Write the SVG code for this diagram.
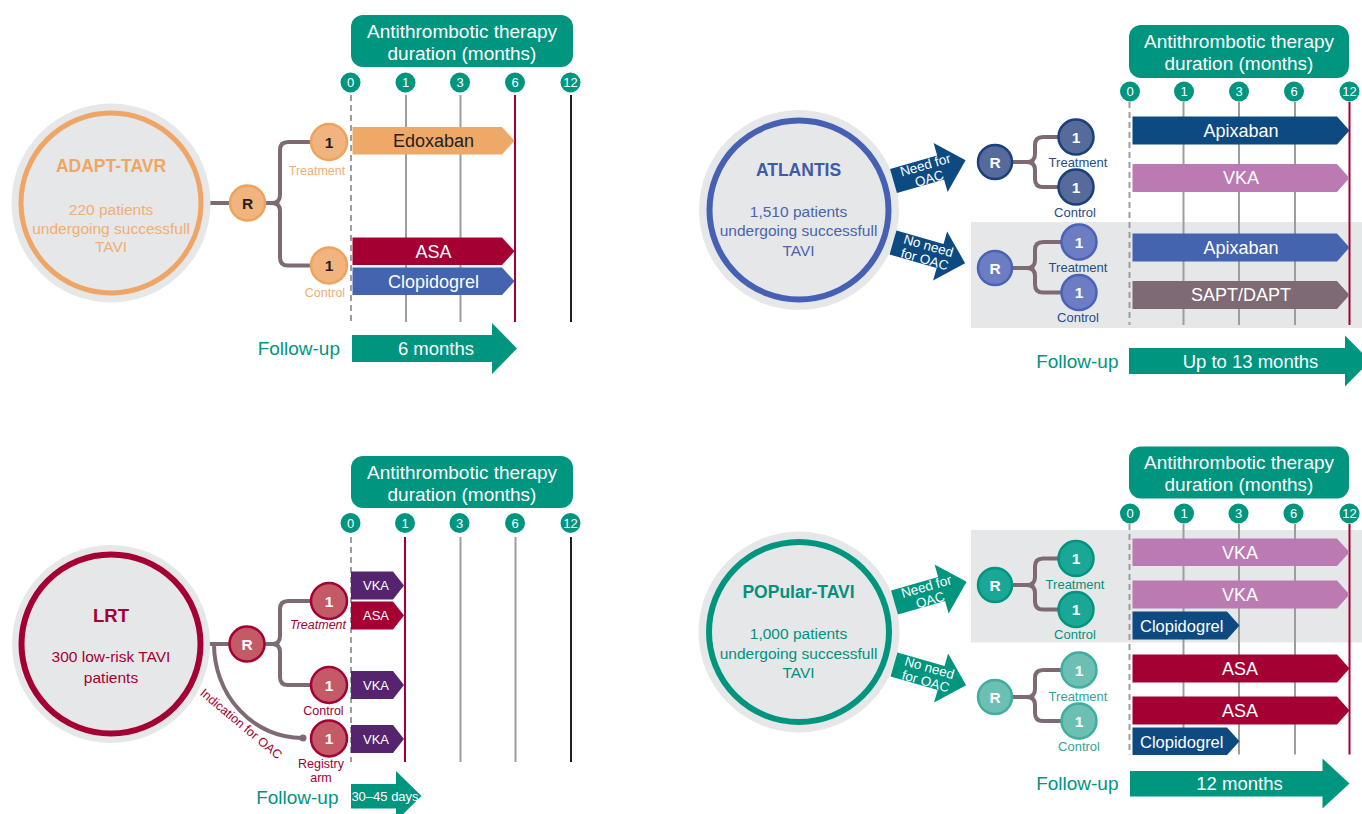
<svg xmlns="http://www.w3.org/2000/svg" width="1362" height="814" viewBox="0 0 1362 814">
<style>
text{font-family:"Liberation Sans",Arial,sans-serif;dominant-baseline:central;text-anchor:middle}
.hdr{fill:#00957F}
.ht{fill:#fff;font-size:19px}
.tk{fill:#00957F}
.tt{fill:#fff;font-size:13px}
.vg{stroke:#9D9D9D;stroke-width:2}
.vd{stroke:#9D9D9D;stroke-width:2;stroke-dasharray:6 4}
.vr{stroke:#A50034;stroke-width:2}
.vk{stroke:#231F20;stroke-width:2}
.br{fill:none;stroke:#7E6A75;stroke-width:4;stroke-linejoin:round;stroke-linecap:round}
.bg{fill:#E6E7E8}
.bt{fill:#fff;font-size:18px}
.fu{fill:#00957F;font-size:19px;text-anchor:end}
.fa{fill:#00957F}
.fat{fill:#fff;font-size:18.5px}
.ttl{font-size:17.5px;font-weight:bold}
.bd{font-size:15.5px}
.lb{font-size:12.5px}
.nn{font-size:15.5px;font-weight:bold;fill:#fff}
.oa{fill:#fff;font-size:13.5px}
</style>

<!-- ================= ADAPT-TAVR ================= -->
<g id="adapt-timeline">
  <rect class="hdr" x="351" y="15" width="222" height="52" rx="12"/>
  <text class="ht" x="462" y="31.5">Antithrombotic therapy</text>
  <text class="ht" x="462" y="53.5">duration (months)</text>
  <line class="vd" x1="351" y1="95" x2="351" y2="322"/>
  <line class="vg" x1="406" y1="95" x2="406" y2="322"/>
  <line class="vg" x1="460.5" y1="95" x2="460.5" y2="322"/>
  <line class="vr" x1="515" y1="95" x2="515" y2="322"/>
  <line class="vk" x1="571" y1="95" x2="571" y2="322"/>
  <circle class="tk" cx="350.5" cy="82.5" r="10"/><text class="tt" x="350.5" y="82.5">0</text>
  <circle class="tk" cx="405.5" cy="82.5" r="10"/><text class="tt" x="405.5" y="82.5">1</text>
  <circle class="tk" cx="460" cy="82.5" r="10"/><text class="tt" x="460" y="82.5">3</text>
  <circle class="tk" cx="515" cy="82.5" r="10"/><text class="tt" x="515" y="82.5">6</text>
  <circle class="tk" cx="570.5" cy="82.5" r="10"/><text class="tt" x="570.5" y="82.5">12</text>
</g>

<!-- ================= ATLANTIS ================= -->
<g id="atlantis-timeline">
  <rect class="bg" x="971" y="222" width="391" height="106"/>
  <rect class="hdr" x="1129" y="25" width="220" height="53" rx="12"/>
  <text class="ht" x="1239" y="41">Antithrombotic therapy</text>
  <text class="ht" x="1239" y="63">duration (months)</text>
  <line class="vd" x1="1129.5" y1="102" x2="1129.5" y2="325"/>
  <line class="vg" x1="1183.5" y1="102" x2="1183.5" y2="325"/>
  <line class="vg" x1="1239" y1="102" x2="1239" y2="325"/>
  <line class="vg" x1="1295" y1="102" x2="1295" y2="325"/>
  <line class="vr" x1="1349.5" y1="102" x2="1349.5" y2="325"/>
  <circle class="tk" cx="1130" cy="91.5" r="10"/><text class="tt" x="1130" y="91.5">0</text>
  <circle class="tk" cx="1184" cy="91.5" r="10"/><text class="tt" x="1184" y="91.5">1</text>
  <circle class="tk" cx="1239" cy="91.5" r="10"/><text class="tt" x="1239" y="91.5">3</text>
  <circle class="tk" cx="1294" cy="91.5" r="10"/><text class="tt" x="1294" y="91.5">6</text>
  <circle class="tk" cx="1349.5" cy="91.5" r="10"/><text class="tt" x="1349.5" y="91.5">12</text>
</g>

<!-- ================= LRT ================= -->
<g id="lrt-timeline">
  <rect class="hdr" x="351" y="456" width="222" height="52" rx="12"/>
  <text class="ht" x="462" y="472">Antithrombotic therapy</text>
  <text class="ht" x="462" y="494">duration (months)</text>
  <line class="vd" x1="351" y1="537" x2="351" y2="762"/>
  <line class="vr" x1="405" y1="537" x2="405" y2="762"/>
  <line class="vg" x1="460.5" y1="537" x2="460.5" y2="762"/>
  <line class="vg" x1="515.5" y1="537" x2="515.5" y2="762"/>
  <line class="vk" x1="571" y1="537" x2="571" y2="762"/>
  <circle class="tk" cx="350.5" cy="523" r="10"/><text class="tt" x="350.5" y="523">0</text>
  <circle class="tk" cx="405" cy="523" r="10"/><text class="tt" x="405" y="523">1</text>
  <circle class="tk" cx="459.5" cy="523" r="10"/><text class="tt" x="459.5" y="523">3</text>
  <circle class="tk" cx="515" cy="523" r="10"/><text class="tt" x="515" y="523">6</text>
  <circle class="tk" cx="570.5" cy="523" r="10"/><text class="tt" x="570.5" y="523">12</text>
</g>

<!-- ================= POPular-TAVI ================= -->
<g id="popular-timeline">
  <rect class="bg" x="971" y="530" width="391" height="112.5"/>
  <rect class="hdr" x="1129" y="446.5" width="220" height="52" rx="12"/>
  <text class="ht" x="1239" y="462.5">Antithrombotic therapy</text>
  <text class="ht" x="1239" y="484.5">duration (months)</text>
  <line class="vd" x1="1129.5" y1="524" x2="1129.5" y2="754.5"/>
  <line class="vg" x1="1183.5" y1="524" x2="1183.5" y2="754.5"/>
  <line class="vg" x1="1239" y1="524" x2="1239" y2="754.5"/>
  <line class="vg" x1="1295" y1="524" x2="1295" y2="754.5"/>
  <line class="vr" x1="1349.5" y1="524" x2="1349.5" y2="754.5"/>
  <circle class="tk" cx="1130" cy="513.5" r="10"/><text class="tt" x="1130" y="513.5">0</text>
  <circle class="tk" cx="1184" cy="513.5" r="10"/><text class="tt" x="1184" y="513.5">1</text>
  <circle class="tk" cx="1238.5" cy="513.5" r="10"/><text class="tt" x="1238.5" y="513.5">3</text>
  <circle class="tk" cx="1293.5" cy="513.5" r="10"/><text class="tt" x="1293.5" y="513.5">6</text>
  <circle class="tk" cx="1349.5" cy="513.5" r="10"/><text class="tt" x="1349.5" y="513.5">12</text>
</g>

<!-- ================= Connectors ================= -->
<g id="connectors">
  <path class="br" d="M205 203 H248"/>
  <path class="br" d="M248 203 H272 Q280 203 280 195 V150 Q280 142 288 142 H329 M272 203 Q280 203 280 211 V257.5 Q280 265.5 288 265.5 H329"/>
  <path class="br" d="M205 644 H247"/>
  <path class="br" d="M247 644 H272 Q280 644 280 636 V609 Q280 601 288 601 H329 M272 644 Q280 644 280 652 V677 Q280 685 288 685 H329"/>
  <path class="br" d="M214 644 A88 94 0 0 0 302 738"/>
  <circle cx="303" cy="738" r="3.5" fill="#7E6A75"/>
  <path class="br" d="M995 162 H1027 Q1035 162 1035 154 V145 Q1035 137 1043 137 H1076 M1027 162 Q1035 162 1035 170 V179 Q1035 187 1043 187 H1076"/>
  <path class="br" d="M995 268 H1027 Q1035 268 1035 260 V250 Q1035 242 1043 242 H1079 M1027 268 Q1035 268 1035 276 V284.5 Q1035 292.5 1043 292.5 H1079"/>
  <path class="br" d="M995 585 H1027 Q1035 585 1035 577 V566.5 Q1035 558.5 1043 558.5 H1076 M1027 585 Q1035 585 1035 593 V601.5 Q1035 609.5 1043 609.5 H1076"/>
  <path class="br" d="M995 697 H1027 Q1035 697 1035 689 V678 Q1035 670 1043 670 H1079 M1027 697 Q1035 697 1035 705 V713 Q1035 721 1043 721 H1079"/>
</g>

<!-- ================= Study circles ================= -->
<g id="adapt-study">
  <circle cx="111" cy="203" r="99.5" fill="#E6E7E8"/>
  <circle cx="111" cy="203" r="90" fill="none" stroke="#EFA564" stroke-width="5"/>
  <text class="ttl" x="111" y="166" fill="#EFA664">ADAPT-TAVR</text>
  <text class="bd" x="111" y="209" fill="#F1AE72">220 patients</text>
  <text class="bd" x="111" y="228" fill="#F1AE72">undergoing successfull</text>
  <text class="bd" x="111" y="246.5" fill="#F1AE72">TAVI</text>
</g>
<g id="lrt-study">
  <circle cx="111" cy="644" r="99" fill="#E6E7E8"/>
  <circle cx="111" cy="644" r="89.5" fill="none" stroke="#A50034" stroke-width="6"/>
  <text class="ttl" x="111" y="615" fill="#A50034" style="font-size:18.5px">LRT</text>
  <text class="bd" x="111" y="656.5" fill="#A50034">300 low-risk TAVI</text>
  <text class="bd" x="111" y="677.5" fill="#A50034">patients</text>
</g>
<g id="atlantis-study">
  <circle cx="799" cy="210" r="100" fill="#E6E7E8"/>
  <circle cx="799" cy="210" r="89.5" fill="none" stroke="#4660B4" stroke-width="6"/>
  <text class="ttl" x="798.5" y="170" fill="#3F5AA8">ATLANTIS</text>
  <text class="bd" x="798.5" y="211.5" fill="#4A63B0">1,510 patients</text>
  <text class="bd" x="798.5" y="230.5" fill="#4A63B0">undergoing successfull</text>
  <text class="bd" x="798.5" y="250" fill="#4A63B0">TAVI</text>
</g>
<g id="popular-study">
  <circle cx="799" cy="632" r="100.5" fill="#E6E7E8"/>
  <circle cx="799" cy="632" r="90" fill="none" stroke="#00957F" stroke-width="6"/>
  <text class="ttl" x="798.5" y="591.5" fill="#00927E">POPular-TAVI</text>
  <text class="bd" x="798.5" y="633.5" fill="#00927E">1,000 patients</text>
  <text class="bd" x="798.5" y="653" fill="#00927E">undergoing successfull</text>
  <text class="bd" x="798.5" y="672.5" fill="#00927E">TAVI</text>
</g>

<!-- ================= OAC arrows ================= -->
<defs>
  <path id="oacArrow" d="M0 -12.5 H49 V-25.5 L75 0 L49 25.5 V12.5 H0 Z"/>
</defs>
<g id="atlantis-need-oac" transform="translate(893.5 181) rotate(-16)">
  <use href="#oacArrow" fill="#0D4A82"/>
  <text class="oa" x="35" y="-6.5">Need for</text>
  <text class="oa" x="35" y="7.5">OAC</text>
</g>
<g id="atlantis-no-need-oac" transform="translate(893 242.5) rotate(16)">
  <use href="#oacArrow" fill="#0D4A82"/>
  <text class="oa" x="35" y="-6.5">No need</text>
  <text class="oa" x="35" y="7.5">for OAC</text>
</g>
<g id="popular-need-oac" transform="translate(894.5 602.5) rotate(-16)">
  <use href="#oacArrow" fill="#00957F"/>
  <text class="oa" x="35" y="-6.5">Need for</text>
  <text class="oa" x="35" y="7.5">OAC</text>
</g>
<g id="popular-no-need-oac" transform="translate(894 664.5) rotate(16)">
  <use href="#oacArrow" fill="#00957F"/>
  <text class="oa" x="35" y="-6.5">No need</text>
  <text class="oa" x="35" y="7.5">for OAC</text>
</g>

<!-- ================= Randomisation & arm nodes ================= -->
<g id="adapt-r"><circle cx="247.5" cy="203" r="17.5" fill="#F2B47E" stroke="#EDA35E" stroke-width="2.5"/><text x="247.5" y="203" style="font-size:15.5px;font-weight:bold;fill:#231F20">R</text></g>
<g id="adapt-treatment"><circle cx="329" cy="142" r="18" fill="#F2B47E" stroke="#EDA35E" stroke-width="2.5"/><text x="329" y="142" style="font-size:15.5px;font-weight:bold;fill:#231F20">1</text>
  <text class="lb" x="317" y="171" fill="#F1AE72">Treatment</text></g>
<g id="adapt-control"><circle cx="329" cy="265.5" r="18" fill="#F2B47E" stroke="#EDA35E" stroke-width="2.5"/><text x="329" y="265.5" style="font-size:15.5px;font-weight:bold;fill:#231F20">1</text>
  <text class="lb" x="325" y="293" fill="#F1AE72">Control</text></g>

<g id="lrt-r"><circle cx="247" cy="644" r="17.5" fill="#C45A66" stroke="#A50034" stroke-width="2.5"/><text class="nn" x="247" y="644">R</text></g>
<g id="lrt-treatment"><circle cx="329" cy="601" r="18" fill="#C45A66" stroke="#A50034" stroke-width="2.5"/><text class="nn" x="329" y="601">1</text>
  <text class="lb" x="318" y="624.5" fill="#A50034" font-style="italic">Treatment</text></g>
<g id="lrt-control"><circle cx="329" cy="685" r="18" fill="#C45A66" stroke="#A50034" stroke-width="2.5"/><text class="nn" x="329" y="685">1</text>
  <text class="lb" x="323.5" y="710.5" fill="#A50034">Control</text></g>
<g id="lrt-registry"><circle cx="329" cy="738.5" r="18" fill="#C45A66" stroke="#A50034" stroke-width="2.5"/><text class="nn" x="329" y="738.5">1</text>
  <text class="lb" x="321" y="764" fill="#A50034">Registry</text>
  <text class="lb" x="321" y="778" fill="#A50034">arm</text></g>
<text id="lrt-oac-label" class="lb" x="0" y="0" fill="#A50034" transform="translate(241 724) rotate(40)">Indication for OAC</text>

<g id="atlantis-r1"><circle cx="995" cy="162" r="17" fill="#566A9C" stroke="#1B3F79" stroke-width="2.5"/><text class="nn" x="995" y="162">R</text></g>
<g id="atlantis-t1"><circle cx="1076" cy="137" r="17.5" fill="#566A9C" stroke="#1B3F79" stroke-width="2.5"/><text class="nn" x="1076" y="137">1</text>
  <text class="lb" x="1078" y="162" fill="#244C8A" style="font-size:13px">Treatment</text></g>
<g id="atlantis-c1"><circle cx="1076" cy="187" r="17.5" fill="#566A9C" stroke="#1B3F79" stroke-width="2.5"/><text class="nn" x="1076" y="187">1</text>
  <text class="lb" x="1075" y="212.5" fill="#244C8A" style="font-size:13px">Control</text></g>
<g id="atlantis-r2"><circle cx="995" cy="268" r="17" fill="#6C7DC4" stroke="#4A62B8" stroke-width="2.5"/><text class="nn" x="995" y="268">R</text></g>
<g id="atlantis-t2"><circle cx="1079" cy="242" r="17.5" fill="#6C7DC4" stroke="#4A62B8" stroke-width="2.5"/><text class="nn" x="1079" y="242">1</text>
  <text class="lb" x="1078" y="267" fill="#244C8A" style="font-size:13px">Treatment</text></g>
<g id="atlantis-c2"><circle cx="1079" cy="292.5" r="17.5" fill="#6C7DC4" stroke="#4A62B8" stroke-width="2.5"/><text class="nn" x="1079" y="292.5">1</text>
  <text class="lb" x="1078" y="317.5" fill="#244C8A" style="font-size:13px">Control</text></g>

<g id="popular-r1"><circle cx="995" cy="585" r="17" fill="#1AA796" stroke="#00957F" stroke-width="2.5"/><text class="nn" x="995" y="585">R</text></g>
<g id="popular-t1"><circle cx="1076" cy="558.5" r="17.5" fill="#1AA796" stroke="#00957F" stroke-width="2.5"/><text class="nn" x="1076" y="558.5">1</text>
  <text class="lb" x="1075" y="584" fill="#00927E" style="font-size:13px">Treatment</text></g>
<g id="popular-c1"><circle cx="1076" cy="609.5" r="17.5" fill="#1AA796" stroke="#00957F" stroke-width="2.5"/><text class="nn" x="1076" y="609.5">1</text>
  <text class="lb" x="1075" y="634.5" fill="#00927E" style="font-size:13px">Control</text></g>
<g id="popular-r2"><circle cx="995" cy="697" r="17" fill="#6CBFB3" stroke="#3FAE9E" stroke-width="2.5"/><text class="nn" x="995" y="697">R</text></g>
<g id="popular-t2"><circle cx="1079" cy="670" r="17.5" fill="#6CBFB3" stroke="#3FAE9E" stroke-width="2.5"/><text class="nn" x="1079" y="670">1</text>
  <text class="lb" x="1078" y="696" fill="#2FA595" style="font-size:13px">Treatment</text></g>
<g id="popular-c2"><circle cx="1079" cy="721" r="17.5" fill="#6CBFB3" stroke="#3FAE9E" stroke-width="2.5"/><text class="nn" x="1079" y="721">1</text>
  <text class="lb" x="1079" y="746.5" fill="#2FA595" style="font-size:13px">Control</text></g>

<!-- ================= Therapy bars ================= -->
<g id="adapt-edoxaban"><path d="M352.5 127 H502 L514.5 140.75 L502 154.5 H352.5 Z" fill="#EEA968"/><text class="bt" x="433.5" y="141" style="fill:#231F20">Edoxaban</text></g>
<g id="adapt-asa"><path d="M352.5 237.5 H502 L514.5 251.25 L502 265 H352.5 Z" fill="#A50034"/><text class="bt" x="433.5" y="251.5">ASA</text></g>
<g id="adapt-clopidogrel"><path d="M352.5 267.5 H502 L514.5 281.25 L502 295 H352.5 Z" fill="#4464B0"/><text class="bt" x="433.5" y="281.5">Clopidogrel</text></g>

<g id="lrt-vka-t"><path d="M351 571.5 H393 L404 585.5 L393 599.5 H351 Z" fill="#56246E"/><text class="bt" x="376" y="585.5" style="font-size:13px">VKA</text></g>
<g id="lrt-asa-t"><path d="M351 601.5 H393 L404 615.5 L393 629.5 H351 Z" fill="#A50034"/><text class="bt" x="376" y="615.5" style="font-size:13px">ASA</text></g>
<g id="lrt-vka-c"><path d="M351 671 H393 L404 685 L393 699 H351 Z" fill="#56246E"/><text class="bt" x="376" y="685" style="font-size:13px">VKA</text></g>
<g id="lrt-vka-r"><path d="M351 725 H393 L404 739 L393 753 H351 Z" fill="#56246E"/><text class="bt" x="376" y="739" style="font-size:13px">VKA</text></g>

<g id="atlantis-apixaban1"><path d="M1132.5 116.5 H1337 L1349.5 130.5 L1337 144.5 H1132.5 Z" fill="#0D4A82"/><text class="bt" x="1241" y="130.5">Apixaban</text></g>
<g id="atlantis-vka"><path d="M1132.5 164 H1337 L1349.5 178 L1337 192 H1132.5 Z" fill="#BC7AB3"/><text class="bt" x="1241" y="178">VKA</text></g>
<g id="atlantis-apixaban2"><path d="M1132.5 233.5 H1337 L1349.5 247.5 L1337 261.5 H1132.5 Z" fill="#4464B0"/><text class="bt" x="1241" y="247.5">Apixaban</text></g>
<g id="atlantis-sapt"><path d="M1132.5 281 H1337 L1349.5 295 L1337 309 H1132.5 Z" fill="#7E6A75"/><text class="bt" x="1241" y="295">SAPT/DAPT</text></g>

<g id="popular-vka1"><path d="M1132.5 538.5 H1337 L1349.5 552.25 L1337 566 H1132.5 Z" fill="#BC7AB3"/><text class="bt" x="1240" y="552.5">VKA</text></g>
<g id="popular-vka2"><path d="M1132.5 580.5 H1337 L1349.5 594.5 L1337 608.5 H1132.5 Z" fill="#BC7AB3"/><text class="bt" x="1240" y="594.5">VKA</text></g>
<g id="popular-clop1"><path d="M1132.5 611.5 H1227 L1239.5 625.5 L1227 639.5 H1132.5 Z" fill="#0D4A82"/><text class="bt" x="1140" y="625.5" style="font-size:16.5px;text-anchor:start">Clopidogrel</text></g>
<g id="popular-asa1"><path d="M1132.5 654.5 H1337 L1349.5 668.5 L1337 682.5 H1132.5 Z" fill="#A50034"/><text class="bt" x="1240" y="668.5">ASA</text></g>
<g id="popular-asa2"><path d="M1132.5 696.5 H1337 L1349.5 710.5 L1337 724.5 H1132.5 Z" fill="#A50034"/><text class="bt" x="1240" y="710.5">ASA</text></g>
<g id="popular-clop2"><path d="M1132.5 727.5 H1227 L1239.5 741.25 L1227 755 H1132.5 Z" fill="#0D4A82"/><text class="bt" x="1140" y="741.5" style="font-size:16.5px;text-anchor:start">Clopidogrel</text></g>

<!-- ================= Follow-up ================= -->
<g id="adapt-followup">
  <text class="fu" x="340" y="348.5">Follow-up</text>
  <path class="fa" d="M352 335 H492 V323 L517 348.5 L492 374 V362 H352 Z"/>
  <text class="fat" x="436" y="348.5">6 months</text>
</g>
<g id="atlantis-followup">
  <text class="fu" x="1118.5" y="361">Follow-up</text>
  <path class="fa" d="M1129 348 H1345 V335.5 L1370 361 L1345 386.5 V374 H1129 Z"/>
  <text class="fat" x="1250.5" y="361">Up to 13 months</text>
</g>
<g id="lrt-followup">
  <text class="fu" x="338.5" y="797">Follow-up</text>
  <path class="fa" d="M351 784 H396 V771 L421.5 796 L396 821 V808.5 H351 Z"/>
  <text class="fat" x="385" y="796" style="font-size:13px">30–45 days</text>
</g>
<g id="popular-followup">
  <text class="fu" x="1118.5" y="783.5">Follow-up</text>
  <path class="fa" d="M1130 771 H1322.5 V758.5 L1349.5 783.5 L1322.5 808.5 V796.5 H1130 Z"/>
  <text class="fat" x="1239.5" y="783.5">12 months</text>
</g>
</svg>
